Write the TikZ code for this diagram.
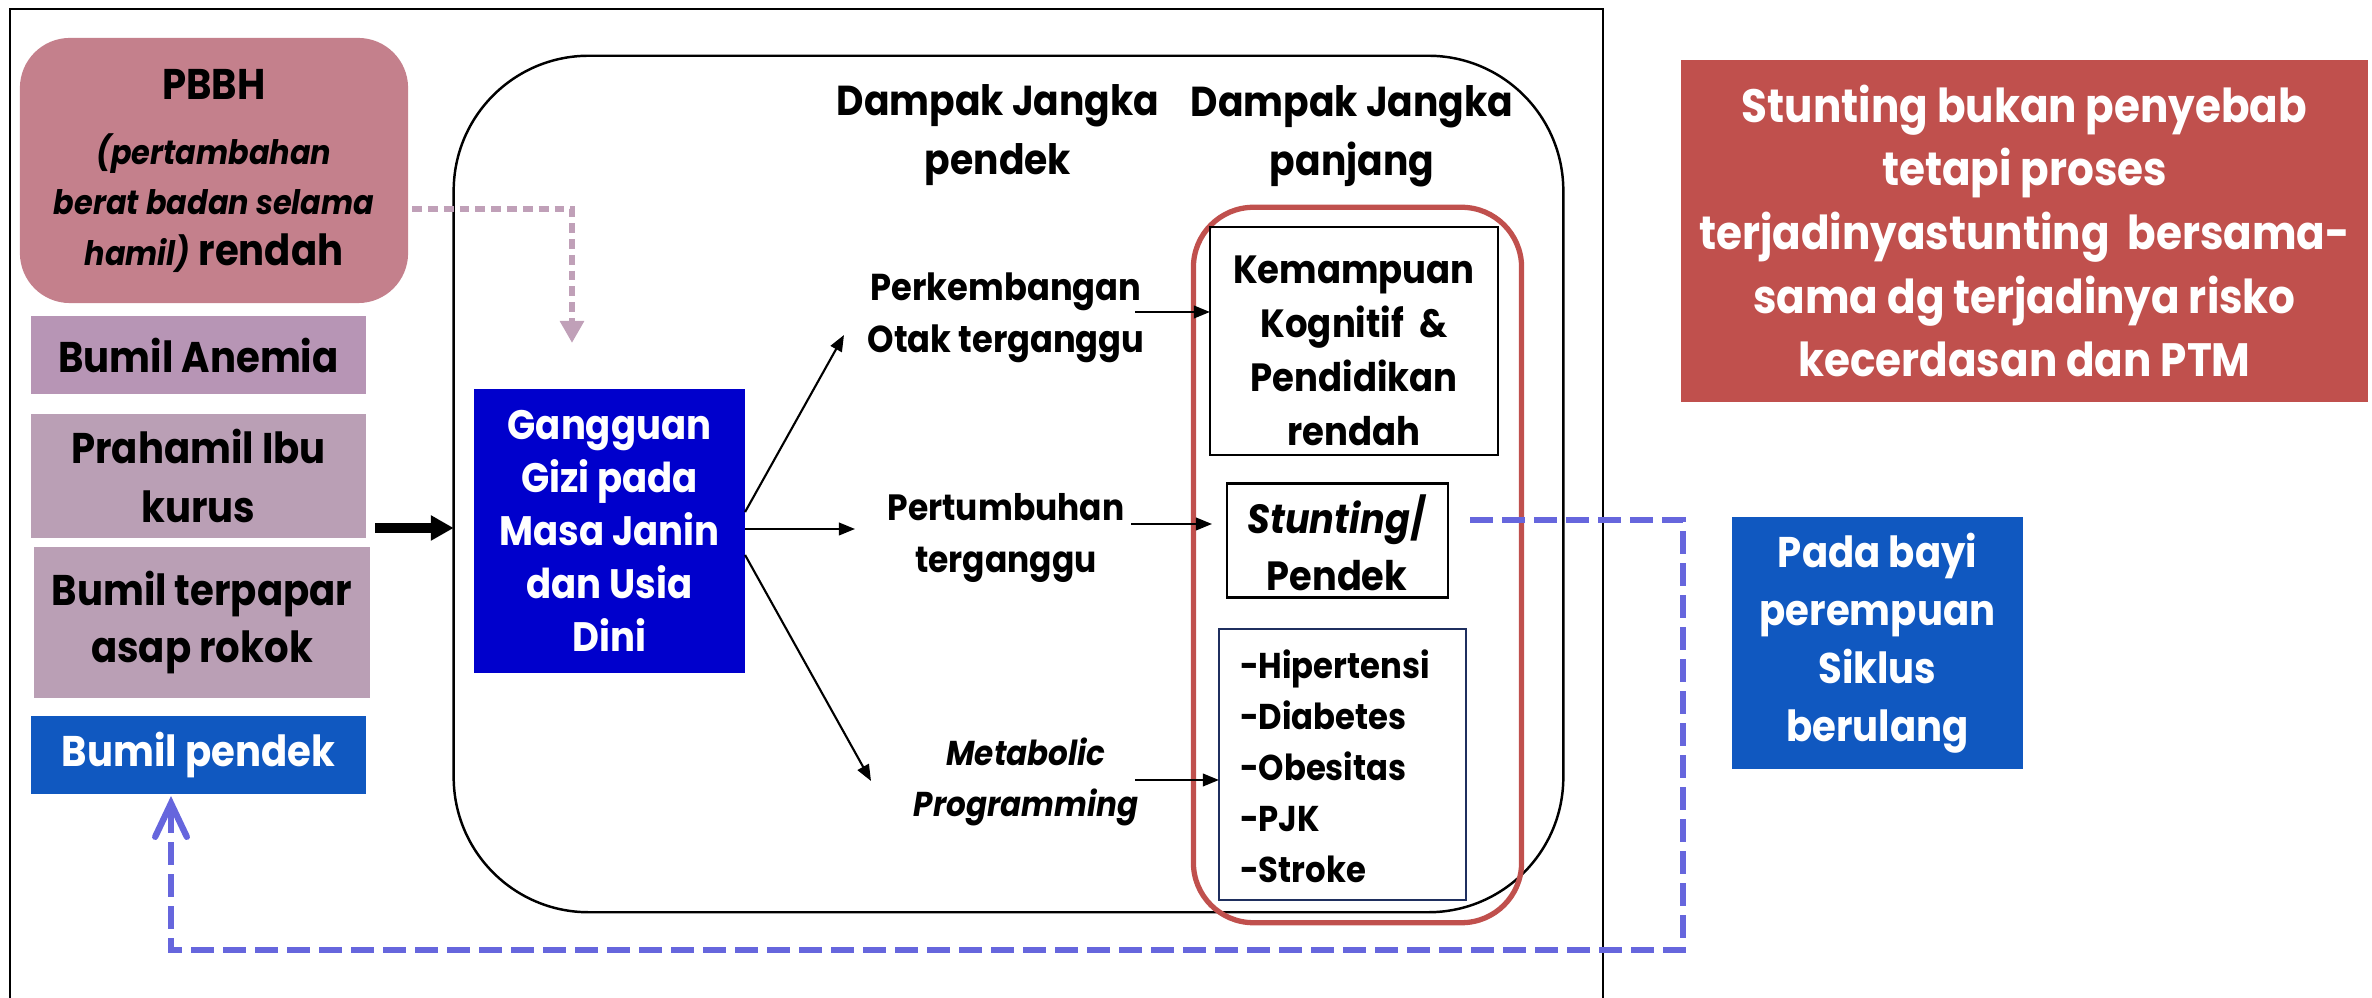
\documentclass[tikz,border=0pt]{standalone}
\usepackage{fontspec}
\setmainfont{Poppins}[FakeStretch=0.9]
\usetikzlibrary{arrows.meta}
\definecolor{pbbhc}{RGB}{196,128,140}
\definecolor{anemc}{RGB}{183,149,181}
\definecolor{prahc}{RGB}{186,159,181}
\definecolor{bluebox}{RGB}{16,88,192}
\definecolor{gizic}{RGB}{0,0,204}
\definecolor{redc}{RGB}{192,80,77}
\definecolor{loopc}{RGB}{102,102,221}
\definecolor{pinkc}{RGB}{192,160,184}
\definecolor{navyc}{RGB}{31,47,95}
\tikzset{
  plainbox/.style={rectangle, inner sep=0pt, outer sep=0pt},
  txt/.style={inner sep=0pt, outer sep=0pt, align=center, font=\bfseries\fontsize{12.2pt}{16.3pt}\selectfont},
  thinarr/.style={line width=0.6pt, -{Triangle[length=4.6pt,width=3.6pt]}},
  thickarr/.style={line width=2.6pt, -{Triangle[length=6.5pt,width=6.8pt]}},
  pinkarr/.style={pinkc, line width=1.9pt, dash pattern=on 2.8pt off 1.7pt, -{Triangle[length=6.3pt,width=6.6pt]}},
  looparr/.style={loopc, line width=1.8pt, dash pattern=on 6.5pt off 2.6pt, -{Straight Barb[length=9.5pt,width=9pt,line cap=round]}},
}
\begin{document}
\begin{tikzpicture}[x=0.01cm, y=-0.01cm]
\useasboundingbox (0,0) rectangle (2372,998);
% outer frame
\draw[line width=0.6pt] (10,998) -- (10,9) -- (1603,9) -- (1603,998);
% big container
\node[plainbox, draw, line width=0.7pt, rounded corners=1.35cm, minimum width=11.09cm, minimum height=8.56cm] (bigbox) at (1008.5,484) {};
% red frame
\node[plainbox, draw=redc, line width=1.5pt, rounded corners=0.6cm, minimum width=3.28cm, minimum height=7.15cm] (redframe) at (1357.5,565) {};
% PBBH
\node[plainbox, fill=pbbhc, rounded corners=0.5cm, minimum width=3.88cm, minimum height=2.65cm] (pbbh) at (214,170.5) {};
\node[txt, font=\bfseries\fontsize{12.2pt}{14.4pt}\selectfont] (pbbht) at (214,171) {PBBH\\[4pt] {\itshape\fontsize{9.6pt}{12pt}\selectfont (pertambahan}\\ {\itshape\fontsize{9.6pt}{12pt}\selectfont berat badan selama}\\ {\itshape\fontsize{9.6pt}{12pt}\selectfont hamil)} rendah};
% left boxes
\node[plainbox, fill=anemc, minimum width=3.35cm, minimum height=0.78cm, txt] (anemia) at (198.5,355) {Bumil Anemia};
\node[plainbox, fill=prahc, minimum width=3.35cm, minimum height=1.24cm, txt, font=\bfseries\fontsize{12.2pt}{16.8pt}\selectfont] (prahamil) at (198.5,476) {Prahamil Ibu\\kurus};
\node[plainbox, fill=prahc, minimum width=3.36cm, minimum height=1.51cm, txt] (rokok) at (202,622.5) {Bumil terpapar\\asap rokok};
\node[plainbox, fill=bluebox, minimum width=3.35cm, minimum height=0.78cm, txt, text=white] (pendek) at (198.5,755) {Bumil pendek};
% Gizi
\node[plainbox, fill=gizic, minimum width=2.71cm, minimum height=2.84cm, txt, text=white, font=\bfseries\fontsize{11.7pt}{15.1pt}\selectfont] (gizi) at (609.5,531) {Gangguan\\Gizi pada\\Masa Janin\\dan Usia\\Dini};
% headers
\node[txt, font=\bfseries\fontsize{11.9pt}{16.8pt}\selectfont] (hpendek) at (998,135) {Dampak Jangka\\pendek};
\node[txt, font=\bfseries\fontsize{11.9pt}{16.8pt}\selectfont] (hpanjang) at (1352,136) {Dampak Jangka\\panjang};
% short-term labels
\node[txt, font=\bfseries\fontsize{10.65pt}{14.8pt}\selectfont] (perk) at (1006,318) {Perkembangan\\Otak terganggu};
\node[txt, font=\bfseries\fontsize{10.4pt}{14.8pt}\selectfont] (pert) at (1006,538) {Pertumbuhan\\terganggu};
\node[txt, font=\bfseries\itshape\fontsize{9.8pt}{14.3pt}\selectfont] (meta) at (1026,782) {Metabolic\\Programming};
% long-term boxes
\node[plainbox, draw, line width=0.7pt, minimum width=2.88cm, minimum height=2.28cm] (kemb) at (1354,341) {};
\node[txt, font=\bfseries\fontsize{11.2pt}{15.4pt}\selectfont] (kembt) at (1354,351) {Kemampuan\\Kognitif\ \ \&\\Pendidikan\\rendah};
\node[plainbox, draw, line width=0.7pt, minimum width=2.21cm, minimum height=1.14cm] (stunt) at (1337.5,540.5) {};
\node[txt, font=\bfseries\fontsize{11.6pt}{16.2pt}\selectfont] (stuntt) at (1337,543) {{\itshape Stunting}/\\Pendek};
\node[plainbox, draw=navyc, line width=0.6pt, minimum width=2.47cm, minimum height=2.71cm] (disbox) at (1342.5,764.5) {};
\node[txt, align=left, anchor=west, font=\bfseries\fontsize{10.2pt}{14.5pt}\selectfont] (dist) at (1240,766) {-Hipertensi\\-Diabetes\\-Obesitas\\-PJK\\-Stroke};
% right boxes
\node[plainbox, fill=redc, minimum width=6.87cm, minimum height=3.42cm, txt, text=white, font=\bfseries\fontsize{13.3pt}{18.1pt}\selectfont] (note) at (2024.5,231) {Stunting bukan penyebab\\tetapi proses\\terjadinyastunting\ \ bersama-\\sama dg terjadinya risko\\kecerdasan dan PTM};
\node[plainbox, fill=bluebox, minimum width=2.91cm, minimum height=2.52cm, txt, text=white, font=\bfseries\fontsize{12.2pt}{16.5pt}\selectfont] (siklus) at (1877.5,643) {Pada bayi\\perempuan\\Siklus\\berulang};
% coordinates
\coordinate (thickS) at (375,528);
\coordinate (g1) at (746,512);
\coordinate (g1e) at (844,335);
\coordinate (g2) at (747,529);
\coordinate (g2e) at (855,529);
\coordinate (g3) at (747,555);
\coordinate (g3e) at (871,781);
\coordinate (a1) at (1135,312);
\coordinate (a2) at (1131,524);
\coordinate (a2e) at (1212,524);
\coordinate (a3) at (1135,780);
\coordinate (pinkA) at (572,209);
\coordinate (pinkB) at (572,343);
\coordinate (loopS) at (1470,520);
\coordinate (loopA) at (1683,520);
\coordinate (loopB) at (1683,950);
\coordinate (loopC) at (171,950);
% connectors
\draw[thickarr] (thickS) -- (bigbox.west |- thickS);
\draw[thinarr] (gizi.east |- g1) -- (g1e);
\draw[thinarr] (gizi.east |- g2) -- (g2e);
\draw[thinarr] (gizi.east |- g3) -- (g3e);
\draw[thinarr] (a1) -- (kemb.west |- a1);
\draw[thinarr] (a2) -- (a2e);
\draw[thinarr] (a3) -- (disbox.west |- a3);
\draw[pinkarr] ([xshift=0.04cm]pbbh.east |- pinkA) -- (pinkA) -- (pinkB);
\draw[looparr] (loopS) -- (loopA) -- (loopB) -- (loopC) -- ([yshift=-0.02cm]loopC |- pendek.south);
\end{tikzpicture}
\end{document}
